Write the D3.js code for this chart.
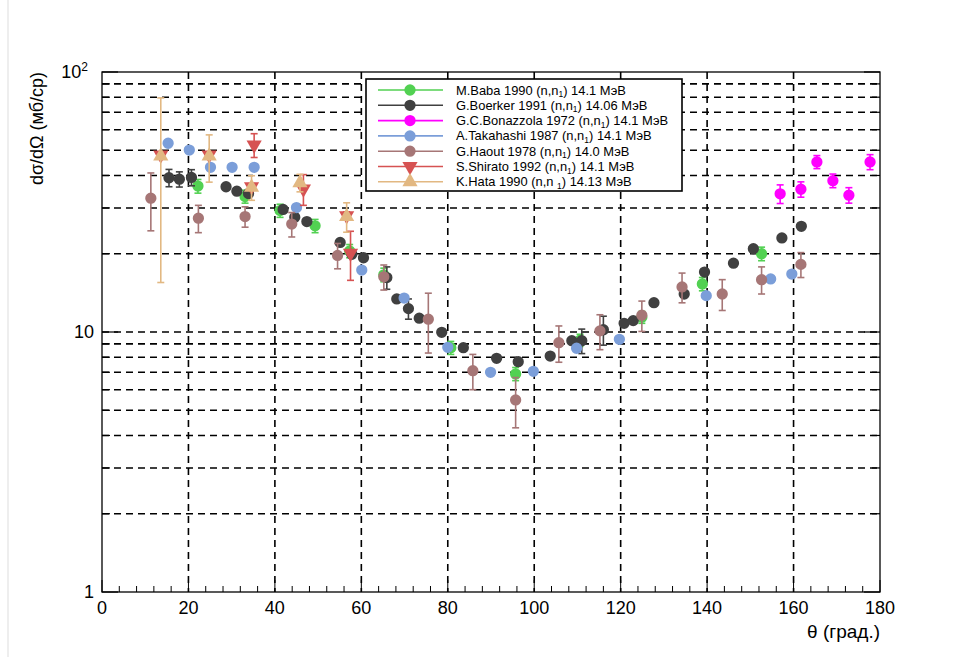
<!DOCTYPE html>
<html><head><meta charset="utf-8">
<script src="https://cdn.jsdelivr.net/npm/d3@7"></script>
<style>body{margin:0;background:#fff;} svg{display:block;font-family:"Liberation Sans",Arial,Helvetica,sans-serif;}</style>
</head><body>
<svg id="c" width="964" height="657"></svg>
<script>
// ---- data ----
const babaTheta = [22.2, 33.1, 41.2, 49.3, 57.3, 65.2, 80.7, 95.7, 110.6, 124.9, 138.9, 152.6];
const babaVal   = [36.4, 33.2, 29.3, 25.6, 20.5, 16.6, 8.7, 6.9, 9.3, 11.4, 15.3, 20.0];
const babaErr   = [2.2, 1.9, 1.7, 1.5, 1.2, 1.0, 0.5, 0.4, 0.5, 0.6, 0.9, 1.2];

const boerTheta = [15.5, 17.9, 20.7, 28.7, 31.2, 33.9, 41.9, 44.6, 47.4, 55.1, 57.8, 60.5, 65.9, 68.2, 70.9, 73.4, 78.6, 83.6, 91.3, 96.3, 103.7, 108.7, 111.0, 116.0, 120.8, 122.9, 127.7, 134.7, 139.4, 146.1, 150.7, 157.3, 161.8];
const boerVal   = [39.2, 38.7, 39.3, 36.2, 34.8, 34.1, 29.6, 27.6, 26.6, 22.1, 19.9, 19.3, 16.2, 13.4, 12.3, 11.3, 9.97, 8.7, 7.92, 7.69, 8.08, 9.26, 9.26, 10.2, 10.8, 11.06, 12.96, 14.0, 17.0, 18.4, 20.9, 23.0, 25.5];
const boerErr   = [3.0, 2.6, 2.8, 0.4, 0.4, 0.4, 0.4, 0.4, 0.4, 0.3, 0.3, 0.3, 1.6, 0.2, 1.1, 0.2, 0.2, 0.2, 0.2, 0.2, 0.2, 0.2, 1.0, 1.3, 0.2, 0.2, 0.2, 0.3, 0.3, 0.3, 0.3, 0.3, 0.3];

const bonaTheta = [156.9, 161.7, 165.4, 169.1, 172.8, 177.7];
const bonaVal   = [34.0, 35.4, 45.1, 38.2, 33.6, 45.1];
const bonaErr   = [2.8, 2.4, 2.6, 2.3, 2.3, 3.0];

const takaTheta = [15.3, 20.2, 25.1, 30.1, 35.2, 45.0, 60.1, 69.9, 80.0, 89.9, 99.8, 109.8, 119.7, 139.8, 154.7, 159.6];
const takaVal   = [53.2, 50.1, 43.0, 43.0, 43.0, 30.1, 17.3, 13.5, 8.73, 7.0, 7.06, 8.66, 9.37, 13.8, 16.0, 16.7];
const takaErr   = [0.5, 0.5, 0.4, 0.4, 0.4, 0.3, 0.2, 0.1, 0.1, 0.1, 0.1, 0.1, 0.1, 0.1, 0.2, 0.2];

const haouTheta = [11.3, 22.3, 33.1, 43.9, 54.5, 65.2, 75.5, 85.8, 95.7, 105.7, 115.2, 124.9, 134.2, 143.5, 152.6, 161.7];
const haouVal   = [32.7, 27.4, 27.8, 26.0, 19.7, 16.3, 11.2, 7.1, 5.48, 9.1, 10.1, 11.6, 14.9, 14.0, 15.9, 18.2];
const haouErr   = [8.2, 3.3, 2.5, 2.8, 2.2, 1.8, 2.9, 1.1, 1.2, 1.45, 1.55, 1.55, 1.95, 1.9, 1.9, 2.0];

const shirTheta = [13.6, 24.8, 34.6, 35.2, 46.6, 56.6, 57.5];
const shirVal   = [48.0, 48.0, 36.2, 52.4, 35.5, 28.0, 20.1];
const shirErr   = [1.0, 1.0, 1.0, 5.5, 4.8, 1.0, 4.3];

const hataTheta = [13.6, 24.8, 34.6, 45.8, 56.6];
const hataVal   = [47.5, 47.5, 36.0, 37.5, 27.8];
const hataErr   = [32.0, 9.8, 3.9, 2.9, 3.6];

const xTicks = [0, 20, 40, 60, 80, 100, 120, 140, 160, 180];
const yTicks = [1, 10, 100];
const seriesNames = ["M.Baba 1990", "G.Boerker 1991", "G.C.Bonazzola 1972", "A.Takahashi 1987", "G.Haout 1978", "S.Shirato 1992", "K.Hata 1990"];
const seriesEnergies = ["14.1 МэВ", "14.06 МэВ", "14.1 МэВ", "14.1 МэВ", "14.0 МэВ", "14.1 МэВ", "14.13 МэВ"];

// ---- build ----
const series = [
  {name: seriesNames[0], en: seriesEnergies[0], t: babaTheta, v: babaVal, e: babaErr, color: "#52d152", shape: "circle"},
  {name: seriesNames[1], en: seriesEnergies[1], t: boerTheta, v: boerVal, e: boerErr, color: "#404040", shape: "circle"},
  {name: seriesNames[2], en: seriesEnergies[2], t: bonaTheta, v: bonaVal, e: bonaErr, color: "#ff00ff", shape: "circle"},
  {name: seriesNames[3], en: seriesEnergies[3], t: takaTheta, v: takaVal, e: takaErr, color: "#7b9ed9", shape: "circle"},
  {name: seriesNames[4], en: seriesEnergies[4], t: haouTheta, v: haouVal, e: haouErr, color: "#a67676", shape: "circle"},
  {name: seriesNames[5], en: seriesEnergies[5], t: shirTheta, v: shirVal, e: shirErr, color: "#d65252", shape: "down"},
  {name: seriesNames[6], en: seriesEnergies[6], t: hataTheta, v: hataVal, e: hataErr, color: "#e2b882", shape: "up"}
];

const L = 102, R = 880, T = 72, B = 592;
const svg = d3.select("#c");
const x = d3.scaleLinear().domain([0, 180]).range([L, R]);
const y = d3.scaleLog().domain([1, 100]).range([B, T]);

// page edge line
svg.append("line").attr("x1", 8).attr("x2", 8).attr("y1", 0).attr("y2", 657).attr("stroke", "#dddddd").attr("stroke-width", 1);

// grid
const g = svg.append("g");
const yGrid = [];
for (let d = 1; d <= 10; d *= 10) for (let m = 1; m <= 9; m++) { const val = m * d; if (val > 1 && val < 100) yGrid.push(val); }
g.selectAll(".hg").data(yGrid).enter().append("line")
  .attr("x1", L).attr("x2", R).attr("y1", d => y(d)).attr("y2", d => y(d))
  .attr("stroke", "#000").attr("stroke-width", 1.6).attr("stroke-dasharray", "7,5");
g.selectAll(".vg").data(xTicks.filter(d => d > 0 && d < 180)).enter().append("line")
  .attr("x1", d => x(d)).attr("x2", d => x(d)).attr("y1", T).attr("y2", B)
  .attr("stroke", "#000").attr("stroke-width", 1.6).attr("stroke-dasharray", "7,5");

// axes ticks
const xMinor = d3.range(0, 181, 4);
g.selectAll(".xt").data(xMinor).enter().append("line")
  .attr("x1", d => x(d)).attr("x2", d => x(d)).attr("y1", B).attr("y2", d => B - (d % 20 === 0 ? 12 : 6))
  .attr("stroke", "#000").attr("stroke-width", 1);
const yAllTicks = [1].concat(yGrid).concat([100]);
g.selectAll(".yt").data(yAllTicks).enter().append("line")
  .attr("x1", L).attr("x2", d => L + ([1, 10, 100].includes(d) ? 16 : 8)).attr("y1", d => y(d)).attr("y2", d => y(d))
  .attr("stroke", "#000").attr("stroke-width", 1.2);
g.selectAll(".yt2").data(yAllTicks).enter().append("line")
  .attr("x1", R).attr("x2", d => R - ([1, 10, 100].includes(d) ? 16 : 8)).attr("y1", d => y(d)).attr("y2", d => y(d))
  .attr("stroke", "#000").attr("stroke-width", 1.2);

// frame
svg.append("rect").attr("x", L).attr("y", T).attr("width", R - L).attr("height", B - T)
  .attr("fill", "none").attr("stroke", "#000").attr("stroke-width", 1.3);

// tick labels
const xl = svg.append("g").attr("font-size", 18).attr("fill", "#000");
xl.selectAll("text").data(xTicks).enter().append("text")
  .attr("x", d => x(d)).attr("y", 614).attr("text-anchor", "middle").text(d => d);
const yl = svg.append("g").attr("font-size", 18);
yl.selectAll("text").data(yTicks).enter().append("text")
  .attr("x", d => d === 100 ? 88 : 94).attr("y", d => y(d) + 6).attr("text-anchor", "end")
  .each(function(d) {
    const t = d3.select(this);
    if (d === 100) { t.append("tspan").text("10"); t.append("tspan").attr("font-size", 12).attr("dy", -7).text("2"); }
    else t.text(d);
  });

// axis titles
svg.append("text").attr("transform", `translate(43,${T}) rotate(-90)`).attr("text-anchor", "end")
  .attr("font-size", 18).text("dσ/dΩ (мб/ср)");
svg.append("text").attr("x", R).attr("y", 638).attr("text-anchor", "end").attr("font-size", 19).text("θ (град.)");

// markers
const sym = {
  circle: d3.symbol().type(d3.symbolCircle).size(100),
  down: d3.symbol().type(d3.symbolTriangle).size(100),
  up: d3.symbol().type(d3.symbolTriangle).size(100)
};
function drawMarker(sel, s, cx, cy) {
  sel.append("path").attr("d", sym[s.shape]())
    .attr("transform", `translate(${cx},${cy})` + (s.shape === "down" ? " rotate(180)" : ""))
    .attr("fill", s.color);
}
series.forEach(s => {
  const gs = svg.append("g");
  s.t.forEach((t, i) => {
    const cx = x(t), v = s.v[i], e = s.e[i];
    const y1 = y(v + e), y2 = y(Math.max(v - e, 1.01));
    gs.append("line").attr("x1", cx).attr("x2", cx).attr("y1", y1).attr("y2", y2).attr("stroke", s.color).attr("stroke-width", 1.6);
    [y1, y2].forEach(yy => gs.append("line").attr("x1", cx - 3.5).attr("x2", cx + 3.5).attr("y1", yy).attr("y2", yy).attr("stroke", s.color).attr("stroke-width", 1.6));
    drawMarker(gs, s, cx, y(v));
  });
});

// legend
const lg = svg.append("g");
lg.append("rect").attr("x", 366).attr("y", 79).attr("width", 316).attr("height", 112)
  .attr("fill", "#fff").attr("stroke", "#000").attr("stroke-width", 1.6);
series.forEach((s, i) => {
  const yy = 90 + i * 15.3;
  lg.append("line").attr("x1", 378).attr("x2", 443).attr("y1", yy).attr("y2", yy).attr("stroke", s.color).attr("stroke-width", 1.6);
  drawMarker(lg, s, 410, yy);
  const tx = lg.append("text").attr("x", 456).attr("y", yy + 4.5).attr("font-size", 12.9);
  tx.append("tspan").text(s.name + (i === 6 ? " (n,n " : " (n,n"));
  tx.append("tspan").attr("font-size", 8.5).attr("dy", 2.5).text("1");
  tx.append("tspan").attr("dy", -2.5).text(") " + s.en);
});
</script>
</body></html>
